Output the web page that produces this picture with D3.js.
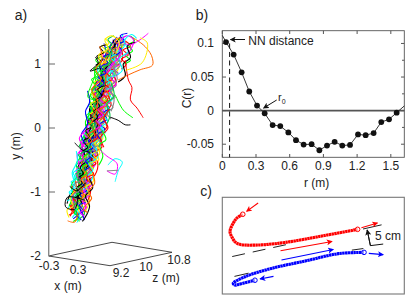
<!DOCTYPE html>
<html>
<head>
<meta charset="utf-8">
<script src="https://d3js.org/d3.v7.min.js"></script>
<style>
html,body{margin:0;padding:0;background:#fff}
text{font-family:"Liberation Sans",Arial,sans-serif;fill:#222}
</style>
</head>
<body>
<div id="chart"></div>
<script>
// panel a: tracks, [projected x (m), y (m)]
var trackColors = ['red','#00ff00','blue','magenta','#00ffff','#ffee00','black','#ff6600','#888888','#00cc44']
var tracks = [
[[.12,-1.38],[.2,-1.2],[.16,-1.02],[.3,-.88],[.26,-.7],[.38,-.52],[.34,-.34],[.48,-.15],[.44,.02],[.55,.2],[.6,.42],[.56,.6],[.72,.8],[.78,1.02],[.86,1.22],[.98,1.36]],
[[.3,-1.46],[.24,-1.28],[.36,-1.12],[.3,-.94],[.44,-.78],[.4,-.6],[.5,-.44],[.46,-.26],[.58,-.08],[.54,.12],[.68,.3],[.62,.5],[.76,.68],[.72,.86],[.9,1.06],[.86,1.26]],
[[.18,-1.42],[.32,-1.3],[.28,-1.1],[.4,-.96],[.5,-.82],[.42,-.62],[.6,-.48],[.52,-.3],[.66,-.12],[.6,.08],[.74,.22],[.66,.44],[.82,.6],[.78,.82],[.96,.98],[.92,1.2],[1.06,1.38]],
[[.36,-1.4],[.42,-1.22],[.3,-1.06],[.5,-.9],[.38,-.74],[.56,-.58],[.62,-.4],[.5,-.22],[.7,-.06],[.64,.14],[.8,.32],[.7,.52],[.88,.7],[.8,.9],[1.02,1.08],[1.0,1.3]],
[[.08,-1.26],[.16,-1.12],[.24,-.92],[.2,-.76],[.34,-.62],[.3,-.46],[.42,-.3],[.38,-.12],[.52,.04],[.48,.24],[.6,.36],[.56,.56],[.68,.74],[.66,.96],[.8,1.14]],
[[.42,-1.3],[.5,-1.12],[.44,-.98],[.58,-.82],[.54,-.64],[.68,-.5],[.6,-.32],[.76,-.16],[.7,.04],[.84,.18],[.78,.38],[.94,.56],[.88,.76],[1.06,.92],[1.0,1.12],[1.16,1.3]],
[[.22,-1.12],[.36,-.98],[.3,-.8],[.42,-.66],[.52,-.52],[.46,-.36],[.56,-.2],[.64,-.04],[.58,.16],[.7,.3],[.76,.48],[.7,.66],[.86,.84],[.82,1.04],[.96,1.24],[1.1,1.42]],
[[.2,-1.34],[.14,-1.16],[.28,-1.0],[.22,-.82],[.36,-.68],[.44,-.5],[.4,-.38],[.54,-.24],[.48,-.02],[.62,.1],[.56,.3],[.72,.46],[.66,.64],[.84,.78],[.76,1.0],[.9,1.18]],
[[.34,-1.24],[.28,-1.14],[.46,-1.04],[.38,-.86],[.52,-.72],[.46,-.56],[.66,-.42],[.58,-.26],[.74,-.1],[.68,.08],[.86,.24],[.8,.44],[.96,.62],[.9,.82],[1.1,.98],[1.06,1.18],[1.22,1.34]],
[[.26,-1.44],[.4,-1.34],[.34,-1.18],[.24,-1.02],[.42,-.88],[.32,-.72],[.5,-.6],[.44,-.44],[.6,-.28],[.54,-.1],[.66,.06],[.62,.26],[.74,.42],[.7,.58],[.84,.72],[.94,.94],[.88,1.1],[1.02,1.28]],
[[.14,-1.3],[.22,-1.08],[.34,-1.0],[.28,-.84],[.44,-.7],[.36,-.54],[.48,-.36],[.44,-.18],[.56,-.04],[.52,.18],[.64,.34],[.58,.48],[.7,.7],[.74,.9],[.84,1.08]],
[[.3,-1.2],[.4,-1.08],[.48,-.92],[.42,-.76],[.58,-.62],[.5,-.48],[.64,-.34],[.72,-.2],[.66,-.02],[.78,.14],[.72,.34],[.9,.5],[.84,.66],[1.0,.84],[.94,1.04],[1.12,1.2],[1.08,1.4]],
[[.24,-1.36],[.18,-1.22],[.26,-1.06],[.34,-.9],[.3,-.7],[.46,-.56],[.38,-.42],[.52,-.26],[.46,-.08],[.6,.06],[.52,.28],[.66,.4],[.62,.62],[.76,.76],[.7,.98],[.82,1.16],[.78,1.32]],
[[.44,-1.2],[.36,-1.02],[.54,-.88],[.48,-.7],[.62,-.56],[.58,-.38],[.72,-.26],[.62,-.06],[.78,.08],[.74,.28],[.9,.42],[.82,.6],[1.0,.74],[.9,.96],[1.08,1.1],[1.04,1.32]],
[[.16,-1.4],[.26,-1.26],[.2,-1.08],[.36,-1.0],[.44,-.84],[.34,-.66],[.48,-.5],[.42,-.32],[.56,-.16],[.5,.0],[.62,.2],[.7,.36],[.64,.54],[.8,.72],[.74,.92],[.92,1.1]],
[[.38,-1.34],[.3,-1.16],[.46,-1.0],[.4,-.8],[.56,-.66],[.5,-.54],[.7,-.4],[.6,-.2],[.8,-.02],[.72,.12],[.88,.3],[.76,.5],[.94,.68],[.86,.88],[1.04,1.02],[1.14,1.24],[1.1,1.44]],
[[.06,-1.18],[.12,-1.04],[.26,-.96],[.34,-.8],[.28,-.6],[.4,-.44],[.36,-.28],[.46,-.1],[.56,.08],[.5,.3],[.64,.46],[.6,.66],[.74,.84],[.7,1.0],[.86,1.16]],
[[.28,-1.28],[.38,-1.16],[.32,-.98],[.46,-.84],[.4,-.66],[.54,-.46],[.48,-.28],[.64,-.14],[.56,.02],[.7,.22],[.64,.4],[.78,.54],[.72,.74],[.88,.92],[.82,1.12],[.98,1.3]],
[[.32,-1.42],[.22,-1.24],[.4,-1.1],[.48,-.94],[.36,-.78],[.54,-.68],[.44,-.48],[.62,-.36],[.54,-.16],[.68,-.02],[.6,.16],[.76,.32],[.68,.5],[.86,.66],[.78,.86],[.98,1.0],[.94,1.22]],
[[.2,-1.1],[.3,-.9],[.24,-.74],[.38,-.64],[.32,-.42],[.48,-.32],[.4,-.14],[.58,.0],[.5,.14],[.66,.24],[.58,.44],[.74,.62],[.68,.8],[.84,.94],[.8,1.14]],
[[.46,-1.14],[.52,-.98],[.44,-.84],[.6,-.74],[.66,-.54],[.56,-.4],[.74,-.3],[.68,-.12],[.84,.02],[.76,.2],[.92,.36],[.86,.56],[1.02,.7],[.96,.9],[1.14,1.06],[1.12,1.26]],
[[.1,-1.22],[.18,-1.04],[.14,-.9],[.28,-.72],[.24,-.56],[.36,-.4],[.32,-.22],[.44,-.06],[.42,.1],[.54,.28],[.5,.48],[.62,.68],[.6,.88],[.72,1.06]],
[[.4,-1.44],[.34,-1.3],[.26,-1.18],[.38,-.92],[.46,-.76],[.42,-.58],[.58,-.44],[.54,-.24],[.66,-.08],[.6,.12],[.72,.26],[.68,.46],[.8,.64],[.76,.84],[.92,1.02],[.88,1.24],[1.04,1.42]],
[[.24,-1.24],[.16,-1.06],[.32,-.92],[.24,-.66],[.4,-.52],[.34,-.3],[.5,-.18],[.46,.0],[.58,.22],[.66,.4],[.6,.6],[.7,.78],[.82,.96],[.76,1.16]],
[[.5,-1.06],[.44,-.9],[.56,-.78],[.5,-.58],[.66,-.46],[.62,-.26],[.76,-.12],[.7,.1],[.82,.26],[.76,.46],[.92,.58],[.84,.8],[1.02,.96],[.98,1.14],[1.18,1.28],[1.14,1.46]],
[[.22,-1.46],[.3,-1.32],[.22,-1.14],[.36,-1.02],[.32,-.84],[.46,-.64],[.38,-.5],[.54,-.34],[.46,-.2],[.6,-.04],[.56,.14],[.7,.34],[.64,.52],[.78,.7],[.74,.92],[.9,1.12],[.84,1.3]],
[[.36,-1.18],[.26,-1.0],[.42,-.86],[.36,-.7],[.5,-.56],[.56,-.42],[.5,-.24],[.62,-.06],[.66,.12],[.6,.32],[.74,.5],[.8,.66],[.74,.86],[.92,1.02],[1.0,1.2],[.96,1.38]],
[[.18,-1.28],[.24,-1.16],[.38,-1.04],[.3,-.86],[.4,-.72],[.34,-.52],[.44,-.4],[.54,-.28],[.6,-.1],[.52,.06],[.66,.22],[.6,.38],[.72,.58],[.82,.76],[.78,.94],[.86,1.14]],
[[.42,-1.1],[.48,-.96],[.4,-.78],[.54,-.6],[.48,-.42],[.6,-.3],[.66,-.14],[.62,.04],[.76,.18],[.7,.38],[.8,.54],[.9,.72],[.84,.9],[.96,1.08],[1.06,1.26],[1.2,1.38]],
[[.28,-1.38],[.2,-1.14],[.34,-.94],[.28,-.78],[.42,-.64],[.38,-.46],[.52,-.36],[.46,-.14],[.58,.0],[.64,.2],[.58,.42],[.7,.56],[.8,.7],[.74,.9],[.94,1.06],[.9,1.28]],
// short wandering pieces, low part of the swarm
[[.1,-1.36],[.2,-1.3],[.12,-1.22],[.24,-1.16],[.14,-1.06],[.22,-1.0],[.16,-.92],[.26,-.84]],
[[.18,-1.46],[.28,-1.4],[.2,-1.32],[.3,-1.24],[.22,-1.18],[.34,-1.1],[.24,-.98],[.32,-.9]],
[[.34,-1.44],[.26,-1.36],[.38,-1.3],[.3,-1.2],[.42,-1.16],[.32,-1.04],[.44,-.98],[.36,-.88]],
[[.4,-1.38],[.32,-1.32],[.44,-1.24],[.36,-1.14],[.48,-1.06],[.38,-.98],[.5,-.92],[.42,-.82]],
[[.06,-1.14],[.16,-1.08],[.1,-1.0],[.2,-.94],[.14,-.84],[.24,-.8],[.18,-.7],[.3,-.64]],
[[.44,-1.16],[.36,-1.08],[.5,-1.02],[.42,-.92],[.54,-.86],[.46,-.78],[.56,-.7],[.48,-.62]],
[[.24,-1.08],[.32,-1.02],[.24,-.94],[.36,-.86],[.28,-.78],[.38,-.72],[.32,-.62],[.42,-.54]],
[[.3,-1.12],[.4,-1.04],[.3,-.96],[.42,-.9],[.34,-.8],[.46,-.72],[.36,-.64],[.48,-.56]],
[[.14,-1.2],[.26,-1.14],[.18,-1.04],[.3,-.98],[.2,-.88],[.32,-.82],[.24,-.74],[.34,-.68]],
[[.22,-.72],[.32,-.66],[.24,-.58],[.36,-.5],[.28,-.42],[.4,-.36],[.3,-.28],[.44,-.2]],
[[.52,-.86],[.44,-.78],[.58,-.72],[.5,-.62],[.62,-.56],[.54,-.48],[.66,-.42],[.58,-.32]],
[[.34,-.76],[.44,-.7],[.36,-.6],[.48,-.54],[.38,-.46],[.5,-.38],[.42,-.3],[.52,-.22]],
[[.4,-.66],[.5,-.6],[.42,-.52],[.54,-.44],[.46,-.36],[.58,-.3],[.48,-.2],[.6,-.14]],
[[.28,-.54],[.38,-.48],[.3,-.38],[.42,-.32],[.34,-.22],[.46,-.16],[.38,-.08],[.5,0]],
[[.46,-.74],[.56,-.66],[.48,-.56],[.6,-.5],[.52,-.42],[.64,-.36],[.54,-.26],[.68,-.18]],
[[.58,-.64],[.5,-.56],[.64,-.5],[.56,-.4],[.7,-.34],[.6,-.24],[.72,-.16],[.64,-.08]],
[[.36,-.36],[.46,-.3],[.38,-.2],[.5,-.14],[.42,-.04],[.54,.02],[.46,.1],[.58,.18]],
[[.44,-.26],[.54,-.2],[.46,-.1],[.58,-.04],[.5,.06],[.62,.14],[.54,.22],[.66,.3]],
[[.66,-.4],[.58,-.32],[.72,-.24],[.64,-.14],[.76,-.06],[.68,.02],[.8,.1],[.72,.2]],
// middle
[[.5,-.12],[.6,-.04],[.52,.04],[.64,.1],[.56,.2],[.68,.28],[.6,.36],[.72,.44]],
[[.56,-.22],[.66,-.14],[.58,-.06],[.7,.02],[.62,.1],[.74,.18],[.66,.28],[.78,.34]],
[[.42,.04],[.52,.1],[.44,.2],[.56,.26],[.48,.36],[.6,.42],[.52,.5],[.64,.58]],
[[.74,-.2],[.66,-.1],[.8,-.02],[.7,.06],[.84,.14],[.76,.24],[.88,.3],[.8,.4]],
[[.62,-.02],[.72,.04],[.62,.14],[.76,.2],[.66,.3],[.8,.36],[.7,.46],[.84,.52]],
[[.82,-.08],[.74,.02],[.86,.1],[.78,.2],[.9,.28],[.82,.38],[.94,.44],[.86,.54]],
[[.5,.22],[.6,.28],[.52,.38],[.64,.44],[.54,.54],[.68,.6],[.58,.7],[.7,.76]],
[[.56,.1],[.66,.18],[.58,.26],[.7,.34],[.62,.44],[.74,.5],[.66,.6],[.78,.66]],
[[.7,.12],[.8,.2],[.7,.28],[.84,.36],[.74,.46],[.88,.52],[.78,.62],[.9,.68]],
[[.92,.14],[.84,.24],[.96,.32],[.86,.42],[1.0,.48],[.9,.58],[1.02,.66],[.94,.76]],
[[.6,.46],[.7,.52],[.6,.62],[.74,.68],[.64,.78],[.78,.84],[.68,.92],[.82,.98]],
[[.76,.38],[.86,.44],[.76,.54],[.9,.6],[.8,.7],[.94,.76],[.84,.86],[.96,.92]],
[[.52,.6],[.62,.66],[.54,.76],[.66,.82],[.58,.92],[.7,.98],[.62,1.06],[.74,1.12]],
[[.68,.64],[.78,.7],[.68,.8],[.82,.86],[.72,.96],[.86,1.02],[.76,1.1],[.9,1.16]],
[[.98,.5],[.88,.6],[1.02,.68],[.92,.78],[1.06,.84],[.96,.94],[1.1,1.0],[1.0,1.1]],
[[.84,.6],[.94,.68],[.84,.76],[.98,.84],[.88,.94],[1.02,1.0],[.92,1.1],[1.06,1.16]],
// top
[[.72,1.0],[.82,1.06],[.7,1.14],[.84,1.2],[.74,1.28],[.88,1.32],[.8,1.4]],
[[.62,.98],[.72,1.04],[.64,1.12],[.78,1.18],[.7,1.26],[.84,1.3]],
[[.9,.94],[1.0,1.0],[.9,1.08],[1.04,1.14],[.94,1.22],[1.08,1.28],[1.0,1.36],[1.12,1.42]],
[[1.06,.86],[.96,.96],[1.1,1.02],[1.0,1.12],[1.14,1.18],[1.04,1.26],[1.18,1.32],[1.1,1.4]],
[[.8,1.1],[.9,1.16],[.8,1.24],[.94,1.3],[.86,1.38],[.98,1.44]],
[[1.12,.92],[1.22,1.0],[1.12,1.08],[1.26,1.14],[1.16,1.22],[1.3,1.28],[1.2,1.36]],
[[1.18,1.0],[1.3,1.06],[1.2,1.14],[1.34,1.2],[1.26,1.3],[1.38,1.36],[1.3,1.44]],
[[1.02,1.14],[1.12,1.22],[1.04,1.3],[1.18,1.36],[1.1,1.44],[1.24,1.48]],
[[.84,.86],[1.0,1.04],[1.12,1.16],[1.06,1.3],[1.22,1.44],[1.36,1.38],[1.3,1.22],[1.18,1.12]],
[[.96,.8],[1.14,.9],[1.08,1.08],[1.26,1.2],[1.18,1.36],[1.32,1.46],[1.42,1.4]],
[[.74,.98],[.68,1.14],[.86,1.24],[.8,1.38],[.94,1.44],[1.08,1.34],[1.02,1.18]],
[[1.06,.72],[1.2,.82],[1.16,1.0],[1.3,1.1],[1.24,1.28],[1.4,1.34]],
[[.58,.16],[.66,.42],[.54,.6],[.72,.76],[.62,.92],[.74,1.06],[.7,1.28]],
[[.92,.26],[.98,.44],[.9,.64],[1.04,.76],[.98,.96],[1.1,1.06]],
[[.82,.04],[.9,.2],[.84,.38],[.98,.5],[.92,.7]],
[[.78,-.3],[.72,-.14],[.86,.0],[.78,.16],[.9,.3]],
[[.68,-.58],[.76,-.44],[.7,-.26],[.82,-.18],[.74,-.04]],
[[.4,-.24],[.34,-.1],[.46,.06],[.42,.26],[.5,.4],[.46,.58]],
[[.3,-.58],[.26,-.42],[.36,-.3],[.3,-.16],[.42,-.04]],
[[.12,-1.04],[.2,-.86],[.16,-.7],[.26,-.52],[.24,-.36]],
[[.1,-1.4],[.06,-1.28],[.18,-1.22],[.12,-1.1],[.24,-.96]],
[[.36,-1.46],[.44,-1.36],[.5,-1.22],[.42,-1.06],[.56,-.94],[.5,-.8]],
[[.46,-1.32],[.38,-1.26],[.54,-1.1],[.48,-1.0],[.6,-.86],[.56,-.72]]
]
// tracks that stray out of the swarm, drawn on top in their own colours
var strayTracks = [
[[1.35,1.41],[1.55,1.3],[1.68,1.18],[1.73,1.09],[1.73,.98],[1.49,.91],[1.26,.83],[1.06,.75]],
[[1.2,1.06],[1.26,.75],[1.33,.63],[1.3,.44],[1.43,.31],[1.55,.16]],
[[1.18,1.32],[1.3,1.3],[1.49,1.38],[1.65,1.48]],
[[1.2,.9],[1.53,1.02],[1.63,1.33],[1.49,1.41]],
[[.7,.94],[.51,.89],[.67,1.02],[.61,1.11]],
[[.9,.17],[1.06,.12],[1.2,.05],[1.3,.05]],
[[.8,.91],[.65,.86],[.55,.7],[.47,.48],[.61,.44]],
[[1.0,.52],[1.16,.28],[1.35,.16]],
[[.7,-.34],[.84,-.44],[1.04,-.56],[1.0,-.72],[.84,-.67]],
[[.86,-.58],[1.0,-.48],[1.14,-.53],[1.06,-.67],[1.0,-.84]],
[[.21,-.23],[.35,-.34],[.51,-.38]],
[[.41,-1.13],[.07,-1.08],[.03,-1.23],[.21,-1.27],[.27,-1.05]],
[[.11,-.91],[.25,-.98],[.41,-.86]],
[[.07,-1.45],[.21,-1.47],[.27,-1.31]],
[[.25,-1.48],[.31,-1.36],[.22,-1.26]],
[[.84,-.67],[1.06,-.66]]
]
var strayColors = ['#ff6600','red','magenta','#ffee00','black','black','#00ff00','#00ff00','magenta','#00ffff','black','black','black','#ff6600','#00ffff','#888888']
var yTicksA = [-2, -1, 0, 1]
var xTicksA = [-0.3, 0.3]
var zTicksA = [9.2, 10, 10.8]

// panel b: correlation function
var rValues = [0, .033, .101, .172, .24, .309, .377, .448, .516, .588, .656, .724, .795, .864, .932, 1.0, 1.068, 1.137, 1.208, 1.276, 1.347, 1.415, 1.484, 1.552, 1.62]
var cValues = [.112, .102, .0835, .057, .0285, .0075, -.004, -.0215, -.023, -.0325, -.044, -.0505, -.05, -.059, -.052, -.0465, -.052, -.051, -.0355, -.0365, -.0335, -.017, -.013, -.003, .007]
var rTicks = [0, .3, .6, .9, 1.2, 1.5], cTicks = [-.05, 0, .05, .1]
var cMinor = [-.025, .025, .075]
var nnDistance = .065, r0 = .35

// panel c: trajectory pair in cm
var redTrack = [[6.4,24.9],[4.6,23.75],[3.4,22.1],[2.4,19.5],[3,17.8],[4,16.3],[5.5,15.5],[11.3,15.3],[19.6,16.1],[31.1,18.1],[42.3,20.2]]
var blueTrack = [[44.3,13],[36.3,12.6],[25.9,10.3],[15.4,8],[7.1,5.4],[3.4,3.3],[4,2.8],[5,3],[10.2,4.3]]
var redArrows = [[[11.2,28.4],[7.6,25.8]],[[43.5,20.7],[48.5,22.2]],[[18.2,13.5],[34.3,16.4]]]
var blueArrows = [[[18.5,10.6],[34.7,13.9]],[[45.8,12.7],[50.3,12.3]],[[16,5.5],[11.8,4.7]]]
var guideSolid = [[[44,20.3],[49.8,21.6]],[[3.8,5.5],[8.2,6.5]],[[40.5,13.7],[44.1,14.2]]]
var guideDashed = [[3.1,11.7],[22.2,15.9]]
var scaleBar = [[45.3,20.0],[46.3,15.1],[50.3,15.6]]

var svg = d3.select('#chart').append('svg').attr('width', 415).attr('height', 308)
function label(x, y, s, size, anchor, rot){
    var t = svg.append('text').attr('x', x).attr('y', y).attr('font-size', size)
        .attr('text-anchor', anchor || 'middle').text(s)
    if(rot) t.attr('transform', 'rotate(' + rot + ',' + x + ',' + y + ')')
    return t
}
label(21, 20, 'a)', 14)
label(202, 20, 'b)', 14)
label(206, 196, 'c)', 14)

// a)
var hA = d3.scaleLinear().domain([-0.3, 0.9]).range([48.7, 110])
var yA = d3.scaleLinear().domain([-2, 1]).range([256, 64])

var base = [[48.7,256],[110,265.7],[172,252.3],[112,242.3],[48.7,256]]
svg.append('path').attr('d', d3.line()(base)).attr('fill', 'none').attr('stroke', '#333').attr('stroke-width', 0.9)

var trackLine = d3.line().x(function (d) { return hA(d[0]) }).y(function (d) { return yA(d[1]) }).curve(d3.curveCatmullRom)
svg.append('g').selectAll('path').data(tracks).enter().append('path')
    .attr('d', trackLine)
    .attr('fill', 'none')
    .attr('stroke', function (d, i) { return trackColors[i % trackColors.length] })
    .attr('stroke-width', 1.1)
svg.append('g').selectAll('path').data(strayTracks).enter().append('path')
    .attr('d', trackLine)
    .attr('fill', 'none')
    .attr('stroke', function (d, i) { return strayColors[i] })
    .attr('stroke-width', 1)

svg.append('line').attr('x1', 48.7).attr('x2', 48.7).attr('y1', 29).attr('y2', 256).attr('stroke', '#888').attr('stroke-width', 1.4)
yTicksA.forEach(function (d) {
    if(d > -2) svg.append('line').attr('x1', 48.7).attr('x2', 55).attr('y1', yA(d)).attr('y2', yA(d)).attr('stroke', '#666')
    label(41, yA(d) + 4, d, 12, 'end')
})
label(49, 270, '-0.3', 12)
label(78, 274, '0.3', 12)
label(121, 277, '9.2', 12)
label(146, 271, '10', 12)
label(179, 264, '10.8', 12)
label(68, 290, 'x (m)', 12)
label(166, 282, 'z (m)', 12)
label(20, 146, 'y (m)', 12, 'middle', -90)

// b)
var xB = d3.scaleLinear().domain([0, 1.62]).range([222.3, 404.3])
var yB = d3.scaleLinear().domain([-.0695, .119]).range([157.3, 30.7])
var bStroke = '#555'
svg.append('rect').attr('x', 222.3).attr('y', 30.7).attr('width', 182).attr('height', 126.6)
    .attr('fill', 'none').attr('stroke', bStroke).attr('stroke-width', 0.9)
rTicks.forEach(function (d) {
    svg.append('line').attr('x1', xB(d)).attr('x2', xB(d)).attr('y1', 157.3).attr('y2', 154).attr('stroke', bStroke)
    svg.append('line').attr('x1', xB(d)).attr('x2', xB(d)).attr('y1', 30.7).attr('y2', 34).attr('stroke', bStroke)
    label(xB(d), 170, d, 12)
})
cTicks.forEach(function (d) {
    svg.append('line').attr('x1', 222.3).attr('x2', 226).attr('y1', yB(d)).attr('y2', yB(d)).attr('stroke', bStroke)
    svg.append('line').attr('x1', 404.3).attr('x2', 401).attr('y1', yB(d)).attr('y2', yB(d)).attr('stroke', bStroke)
    label(214, yB(d) + 4, d, 12, 'end')
})
cMinor.forEach(function (d) {
    svg.append('line').attr('x1', 404.3).attr('x2', 402).attr('y1', yB(d)).attr('y2', yB(d)).attr('stroke', bStroke)
})
svg.append('line').attr('x1', 222.3).attr('x2', 404.3).attr('y1', yB(0)).attr('y2', yB(0)).attr('stroke', '#555').attr('stroke-width', 1.6)
svg.append('line').attr('x1', xB(nnDistance)).attr('x2', xB(nnDistance)).attr('y1', yB(.1)).attr('y2', 157.3)
    .attr('stroke', '#111').attr('stroke-width', 1).attr('stroke-dasharray', '5,3.5')
var curve = rValues.map(function (d, i) { return [d, cValues[i]] })
svg.append('path').datum(curve)
    .attr('d', d3.line().x(function (d) { return xB(d[0]) }).y(function (d) { return yB(d[1]) }))
    .attr('fill', 'none').attr('stroke', '#222').attr('stroke-width', 0.9)
svg.append('g').selectAll('circle').data(curve.slice(1, -1)).enter().append('circle')
    .attr('cx', function (d) { return xB(d[0]) }).attr('cy', function (d) { return yB(d[1]) })
    .attr('r', 2.9).attr('fill', '#111')
svg.append('text').attr('x', 248.3).attr('y', 44.5).attr('font-size', 12).text('NN distance')

var defs = svg.append('defs')
function marker(id, col){
    defs.append('marker').attr('id', id).attr('viewBox', '0 0 8 8').attr('refX', 7).attr('refY', 4)
        .attr('markerUnits', 'userSpaceOnUse').attr('markerWidth', 6).attr('markerHeight', 6).attr('orient', 'auto')
        .append('path').attr('d', 'M0,0L8,4L0,8L2,4Z').attr('fill', col)
}
marker('hb', '#111'); marker('hr', 'red'); marker('hu', 'blue')
function arrow(x1, y1, x2, y2, col, w, m){
    svg.append('line').attr('x1', x1).attr('y1', y1).attr('x2', x2).attr('y2', y2)
        .attr('stroke', col).attr('stroke-width', w).attr('marker-end', 'url(#' + m + ')')
}
arrow(245, 39.5, 230.5, 39.5, '#111', 1, 'hb')
arrow(276.7, 100, xB(r0) + 2, 108, '#111', 1, 'hb')
svg.append('text').attr('x', 278).attr('y', 101).attr('font-size', 11).text('r').append('tspan').attr('font-size', 7).attr('dy', 3).text('0')
label(316.7, 187, 'r (m)', 12)
label(191, 98, 'C(r)', 12, 'middle', -90)

// c)
var xC = d3.scaleLinear().domain([0, 56.9]).range([222.3, 404.3])
var yC = d3.scaleLinear().domain([0, 30.2]).range([294, 197.3])
svg.append('rect').attr('x', 222.3).attr('y', 197.3).attr('width', 182).attr('height', 96.7)
    .attr('fill', 'none').attr('stroke', '#777').attr('stroke-width', 1.1)
var lineC = d3.line().x(function (d) { return xC(d[0]) }).y(function (d) { return yC(d[1]) })
guideSolid.forEach(function (g) {
    svg.append('path').attr('d', lineC(g)).attr('stroke', '#222').attr('stroke-width', 1).attr('fill', 'none')
})
svg.append('path').attr('d', lineC(guideDashed)).attr('stroke', '#222').attr('stroke-width', 1)
    .attr('stroke-dasharray', '13,8').attr('fill', 'none')
var smooth = d3.line().x(function (d) { return xC(d[0]) }).y(function (d) { return yC(d[1]) }).curve(d3.curveCatmullRom)
function track(pts, col){
    svg.append('path').attr('d', smooth(pts)).attr('fill', 'none').attr('stroke', col)
        .attr('stroke-width', 3.1).attr('stroke-dasharray', '2.4,.35')
}
track(redTrack, 'red')
track(blueTrack, 'blue')
function ring(p, col){
    svg.append('circle').attr('cx', xC(p[0])).attr('cy', yC(p[1])).attr('r', 2.3)
        .attr('fill', '#fff').attr('fill-opacity', .6).attr('stroke', col).attr('stroke-width', 1)
}
ring(redTrack[0], 'red'); ring(redTrack[redTrack.length - 1], 'red')
ring(blueTrack[0], 'blue'); ring(blueTrack[blueTrack.length - 1], 'blue')
redArrows.forEach(function (a) { arrow(xC(a[0][0]), yC(a[0][1]), xC(a[1][0]), yC(a[1][1]), 'red', 1.1, 'hr') })
blueArrows.forEach(function (a) { arrow(xC(a[0][0]), yC(a[0][1]), xC(a[1][0]), yC(a[1][1]), 'blue', 1.1, 'hu') })
svg.append('path').attr('d', lineC(scaleBar)).attr('fill', 'none').attr('stroke', '#111').attr('stroke-width', 1)
arrow(xC(scaleBar[1][0]), yC(scaleBar[1][1]), xC(scaleBar[0][0]), yC(scaleBar[0][1]), '#111', 1, 'hb')
svg.append('text').attr('x', 375).attr('y', 240).attr('font-size', 12).text('5 cm')
</script>
</body>
</html>
